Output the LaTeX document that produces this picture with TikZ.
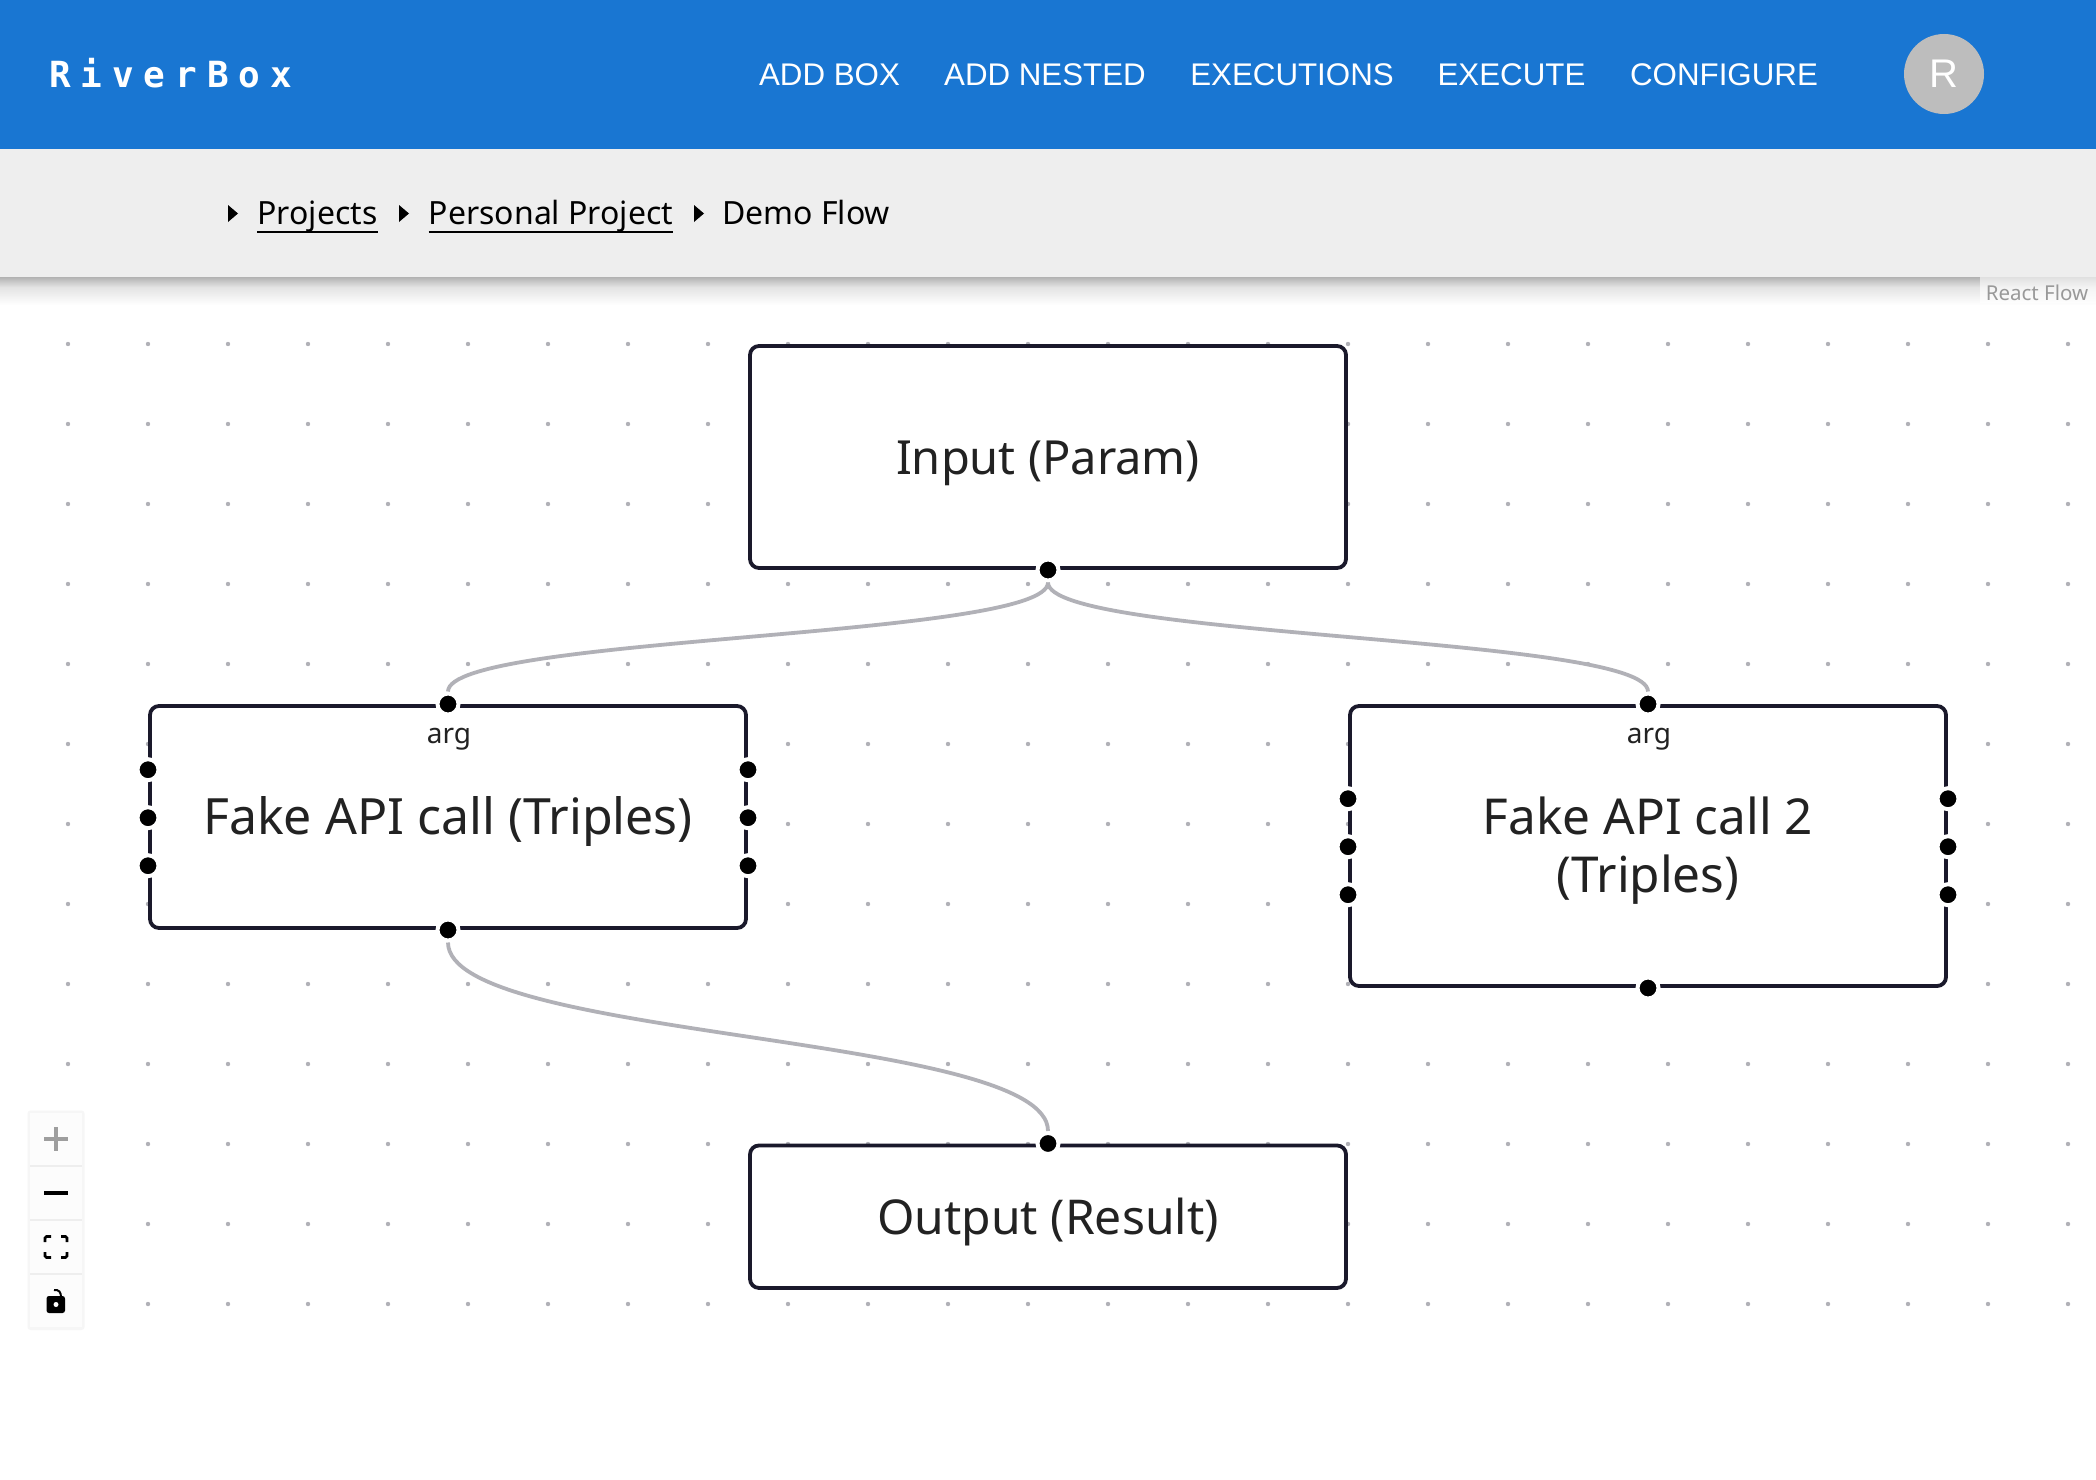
\documentclass[tikz,border=0pt]{standalone}
\usetikzlibrary{positioning}
\usepackage{fontspec}
\setmainfont{Noto Sans}
\newfontfamily\navfont{Liberation Sans}
\newfontfamily\brandfont[LetterSpace=27.5]{DejaVu Sans Mono}
\definecolor{headblue}{HTML}{1976D2}
\definecolor{crumbgray}{HTML}{EEEEEE}
\definecolor{avatargray}{HTML}{BDBDBD}
\definecolor{nodeline}{HTML}{1A192B}
\definecolor{edgegray}{HTML}{B1B1B7}
\definecolor{inktext}{HTML}{222222}
\begin{document}
\begin{tikzpicture}[x=1pt, y=-1pt,
		flownode/.style={draw=nodeline, fill=white, line width=3.8pt, rounded corners=9pt, minimum width=596pt, outer sep=0pt, inner sep=0pt, align=center, text=inktext, text height=47pt, font=\fontsize{#1}{58}\selectfont},
		handle/.style={circle, draw=white, fill=black, line width=4pt, minimum size=21pt, inner sep=0pt},
		flowedge/.style={draw=edgegray, line width=3.8pt},
		navitem/.style={anchor=base, text=white, font=\navfont\fontsize{31.3}{36}\selectfont},
		crumb/.style={anchor=base, text=black, inner sep=0pt, font=\fontsize{32}{36}\selectfont},
		crumbarrow/.style={fill=black},
		argtext/.style={text=inktext, inner sep=0pt, xshift=1pt, font=\fontsize{28}{30}\selectfont},
		ctrlbtn/.style={fill=white!99!black, minimum width=52pt, minimum height=52pt, inner sep=0pt},
		griddot/.style={fill=edgegray}]
	\useasboundingbox (0,0) rectangle (2096,1480);
	\fill[white] (0,0) rectangle (2096,1480);

	% background dots
	\foreach \gx in {0,...,25}
		\foreach \gy in {0,...,12}
			\fill[griddot] (68+80*\gx,344+80*\gy) circle (2.2pt);

	% top bar
	\fill[headblue] (0,0) rectangle (2096,149);
	\fill[crumbgray] (0,149) rectangle (2096,277);
	\shade[top color=black!30, bottom color=black!11] (0,277) rectangle (2096,287);
	\shade[top color=black!11, bottom color=white] (0,287) rectangle (2096,305);
	\fill[white, opacity=0.6] (1980,277) rectangle (2096,303);
	\node[anchor=base, text=black!40, inner sep=0pt, font=\fontsize{20.5}{24}\selectfont] (reactFlow) at (2037,300) {React Flow};

	\node[anchor=base west, inner sep=0pt, text=white, font=\brandfont\bfseries\fontsize{36}{40}\selectfont] (brand) at (49,88) {RiverBox};
	\node[navitem] (navBox) at (829.5,85) {ADD BOX};
	\node[navitem] (navNested) at (1045,85) {ADD NESTED};
	\node[navitem] (navExecutions) at (1292,85) {EXECUTIONS};
	\node[navitem] (navExecute) at (1511.5,85) {EXECUTE};
	\node[navitem] (navConfigure) at (1724,85) {CONFIGURE};
	\node[circle, fill=avatargray, minimum size=80pt, inner sep=0pt, text=white, font=\navfont\fontsize{40}{42}\selectfont] (avatar) at (1944,74) {R};

	% breadcrumbs
	\fill[crumbarrow] (228,205) -- (238,213.5) -- (228,222) -- cycle;
	\fill[crumbarrow] (399,205) -- (409,213.5) -- (399,222) -- cycle;
	\fill[crumbarrow] (694,205) -- (704,213.5) -- (694,222) -- cycle;
	\node[crumb] (crumbProjects) at (317.5,224) {Projects};
	\node[crumb] (crumbPersonal) at (551,224) {Personal Project};
	\node[crumb] (crumbDemo) at (806,224) {Demo Flow};
	\draw[line width=2.4pt, yshift=1pt] (crumbProjects.south west) -- (crumbProjects.south east);
	\draw[line width=2.4pt, yshift=1pt] (crumbPersonal.south west) -- (crumbPersonal.south east);

	% flow boxes
	\node[flownode=47, minimum height=222pt] (inputBox) at (1048,457) {Input (Param)};
	\node[flownode=50, minimum height=222pt] (fakeBox) at (448,817) {Fake API call (Triples)};
	\node[flownode=49.5, minimum height=280pt, text height=105pt] (fakeTwoBox) at (1648,846) {Fake API call 2\\(Triples)};
	\node[flownode=48, minimum height=142.5pt] (outputBox) at (1048,1216.7) {Output (Result)};

	% handles
	\node[handle, yshift=-2pt] (inputB) at (inputBox.south) {};
	\node[handle, yshift=2pt] (fakeT) at (fakeBox.north) {};
	\node[handle, yshift=-2pt] (fakeB) at (fakeBox.south) {};
	\node[handle, yshift=2pt] (fakeTwoT) at (fakeTwoBox.north) {};
	\node[handle, yshift=-2pt] (fakeTwoB) at (fakeTwoBox.south) {};
	\node[handle, yshift=2pt] (outputT) at (outputBox.north) {};
	\foreach \n/\off in {a/47.3,b/-0.7,c/-48.7} {
		\node[handle, xshift=-2pt, yshift=\off pt] (fakeL\n) at (fakeBox.west) {};
		\node[handle, xshift=2pt, yshift=\off pt] (fakeR\n) at (fakeBox.east) {};
		\node[handle, xshift=-2pt, yshift=\off pt] (fakeTwoL\n) at (fakeTwoBox.west) {};
		\node[handle, xshift=2pt, yshift=\off pt] (fakeTwoR\n) at (fakeTwoBox.east) {};
	}
	\node[argtext, below=12pt of fakeT] (fakeArg) {arg};
	\node[argtext, below=12pt of fakeTwoT] (fakeTwoArg) {arg};

	% connectors
	\draw[flowedge] (inputB.south) .. controls +(0,56) and +(0,-56) .. (fakeT.north);
	\draw[flowedge] (inputB.south) .. controls +(0,56) and +(0,-56) .. (fakeTwoT.north);
	\draw[flowedge] (fakeB.south) .. controls +(0,98) and +(0,-98) .. (outputT.north);

	% zoom panel
	\fill[black!3.5, rounded corners=3pt] (27.5,1110.5) rectangle (84.5,1330);
	\fill[crumbgray] (30,1113) rectangle (82,1327);
	\node[ctrlbtn] (zoomIn) at (56,1139) {};
	\node[ctrlbtn] (zoomOut) at (56,1193) {};
	\node[ctrlbtn] (zoomFit) at (56,1247) {};
	\node[ctrlbtn] (zoomLock) at (56,1301) {};
	\draw[black!38, line width=3.2pt] (zoomIn.center) ++(-12,0) -- ++(24,0) (zoomIn.center) ++(0,-12) -- ++(0,24);
	\draw[black, line width=3.2pt] (zoomOut.center) ++(-12,0) -- ++(24,0);
	\draw[black, line width=2.8pt, rounded corners=1.5pt]
		(zoomFit.center) ++(-11,-5) -- ++(0,-5.5) -- ++(6,0)
		(zoomFit.center) ++(5,-10.5) -- ++(6,0) -- ++(0,5.5)
		(zoomFit.center) ++(11,5) -- ++(0,5.5) -- ++(-6,0)
		(zoomFit.center) ++(-5,10.5) -- ++(-6,0) -- ++(0,-5.5);
	\fill[black, rounded corners=2.5pt] (46.5,1296) rectangle (65,1313);
	\fill[white] (56,1304.5) circle (2.5pt);
	\draw[black, line width=2pt] (54,1290) .. controls (59,1289.5) and (61,1292) .. (61,1297);
\end{tikzpicture}
\end{document}
